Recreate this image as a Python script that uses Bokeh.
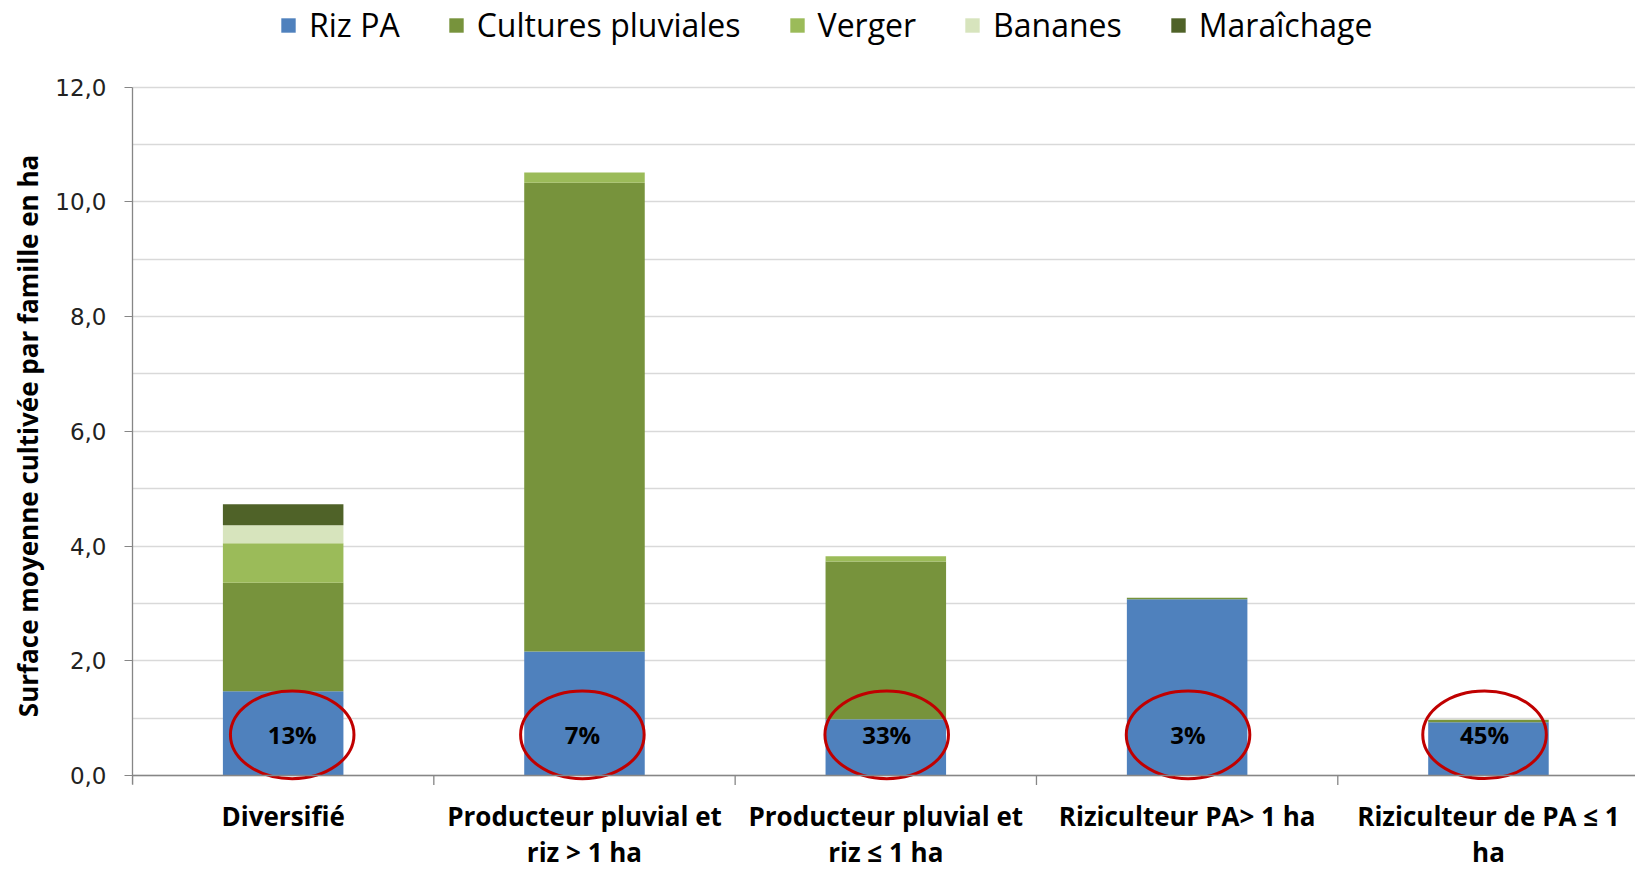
from bokeh.plotting import figure
from bokeh.models import Range1d, FixedTicker, Legend, ColumnDataSource, Span
from bokeh.core.properties import value
from bokeh.embed import file_html
from bokeh.resources import INLINE

categories = ["Diversifié", "Producteur pluvial et\nriz > 1 ha", "Producteur pluvial et\nriz ≤ 1 ha",
              "Riziculteur PA> 1 ha", "Riziculteur de PA ≤ 1\nha"]
series = ["Riz PA", "Cultures pluviales", "Verger", "Bananes", "Maraîchage"]
riz_pa = [1.47, 2.16, 0.98, 3.07, 0.93]
cultures = [1.89, 8.17, 2.75, 0.03, 0.04]
verger = [0.69, 0.18, 0.09, 0.0, 0.0]
bananes = [0.31, 0.0, 0.0, 0.0, 0.0]
maraichage = [0.37, 0.0, 0.0, 0.0, 0.0]
shares = ["13%", "7%", "33%", "3%", "45%"]
colors = ["#4F81BD", "#77933C", "#9BBB59", "#D7E4BD", "#4F6228"]
y_ticks = [0, 2, 4, 6, 8, 10, 12]
y_labels = ["0,0", "2,0", "4,0", "6,0", "8,0", "10,0", "12,0"]

xs = list(range(len(categories)))
# hand-drawn circles are slightly off-centre on some bars
circle_dx = [0.03, -0.007, 0.003, 0.003, -0.013]
src = ColumnDataSource(dict(x=xs, riz=riz_pa, cult=cultures, verg=verger, ban=bananes, mar=maraichage,
                            share=shares, ex=[x + d for x, d in zip(xs, circle_dx)], ey=[0.71] * 5,
                            cat=categories, ly=[-0.40] * 5))
# category boundaries (separator ticks under the category axis)
bounds_x = [x - 0.5 for x in xs]
sep = ColumnDataSource(dict(x=bounds_x, y0=[0.0] * len(bounds_x), y1=[-0.165] * len(bounds_x)))

p = figure(width=1635, height=871, output_backend="svg", toolbar_location=None,
           x_range=Range1d(-0.5, 4.488), y_range=Range1d(-1.673, 13.508),
           min_border_left=132, min_border_right=0, min_border_top=0, min_border_bottom=0)
p.outline_line_color = None
p.xaxis.visible = False

rs = p.vbar_stack(["riz", "cult", "verg", "ban", "mar"], x="x", width=0.40, color=colors,
                  line_color=None, source=src)

# category axis line and separator ticks
p.add_layout(Span(location=0, dimension="width", line_color="#868686", line_width=1.3))
p.segment(x0="x", y0="y0", x1="x", y1="y1", line_color="#868686", line_width=1.3, source=sep)

p.ellipse(x="ex", y="ey", width=0.41, height=1.53, fill_color=None, line_color="#C00000",
          line_width=3, source=src)
p.text(x="ex", y="ey", text="share", text_align="center", text_baseline="middle",
       text_font=value("Open Sans"), text_font_style="bold", text_font_size="24px",
       text_color="#000000", source=src)

# category labels
p.text(x="x", y="ly", text="cat", text_align="center", text_baseline="top",
       text_font=value("Open Sans"), text_font_style="bold", text_font_size="26px",
       text_line_height=1.0, text_color="#000000", source=src)

p.yaxis.ticker = FixedTicker(ticks=y_ticks, minor_ticks=[1, 3, 5, 7, 9, 11])
p.yaxis.bounds = (-0.165, 12)
p.yaxis.major_label_overrides = {t: l for t, l in zip(y_ticks, y_labels)}
p.yaxis.major_tick_out = 8
p.yaxis.major_tick_in = 0
p.yaxis.minor_tick_out = 0
p.yaxis.minor_tick_in = 0
p.yaxis.major_label_standoff = 18
p.yaxis.major_label_text_font = "DejaVu Sans"
p.yaxis.major_label_text_font_size = "23px"
p.yaxis.major_label_text_color = "#222222"
p.yaxis.axis_line_color = "#868686"
p.yaxis.axis_line_width = 1.3
p.yaxis.major_tick_line_color = "#868686"
p.yaxis.axis_label = "Surface moyenne cultivée par famille en ha"
p.yaxis.axis_label_text_font = "Open Sans"
p.yaxis.axis_label_text_font_style = "bold"
p.yaxis.axis_label_text_font_size = "26px"
p.yaxis.axis_label_text_color = "#000000"
p.yaxis.axis_label_standoff = 6

p.xgrid.grid_line_color = None
p.ygrid.grid_line_color = "#D9D9D9"
p.ygrid.minor_grid_line_color = "#D9D9D9"
p.ygrid.grid_line_width = 1.3
p.ygrid.minor_grid_line_width = 1.3

legend = Legend(items=[(s, [r]) for s, r in zip(series, rs)], orientation="horizontal",
                location=(147, 825), label_text_font="Open Sans", label_text_font_size="32px",
                label_text_color="#000000",
                glyph_width=18, glyph_height=18, label_standoff=12, spacing=47,
                border_line_color=None, background_fill_alpha=0, padding=0, margin=0)
p.add_layout(legend, "center")

open("out.html", "w").write(file_html(p, INLINE))
